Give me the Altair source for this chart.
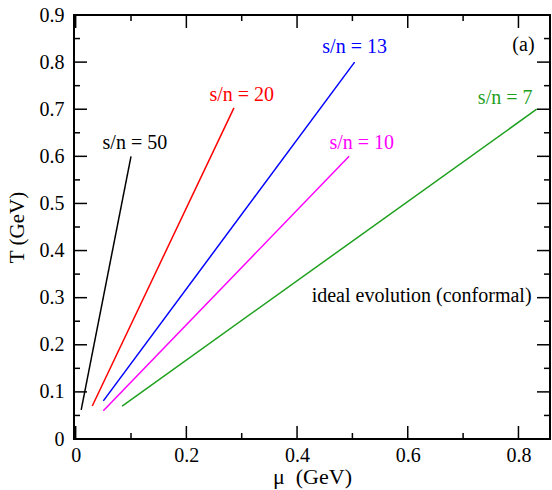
import altair as alt
import pandas as pd

# ---- data ----
series_names = ["s/n = 50", "s/n = 20", "s/n = 13", "s/n = 10", "s/n = 7"]
series_colors = ["#000000", "#ff0000", "#0000ff", "#ff00ff", "#1ea01e"]
mu_50 = [0.010, 0.100]
T_50 = [0.062, 0.600]
mu_20 = [0.030, 0.286]
T_20 = [0.070, 0.703]
mu_13 = [0.050, 0.504]
T_13 = [0.081, 0.800]
mu_10 = [0.050, 0.494]
T_10 = [0.060, 0.600]
mu_7 = [0.084, 0.833]
T_7 = [0.070, 0.700]

label_x = [0.107, 0.300, 0.504, 0.517, 0.776]
label_y = [0.628, 0.730, 0.832, 0.628, 0.724]

x_major = [0.0, 0.2, 0.4, 0.6, 0.8]
x_minor = [0.1, 0.3, 0.5, 0.7]
y_major = [0.0, 0.1, 0.2, 0.3, 0.4, 0.5, 0.6, 0.7, 0.8, 0.9]
y_minor = [0.05, 0.15, 0.25, 0.35, 0.45, 0.55, 0.65, 0.75, 0.85]

rows = []
for name, mus, Ts in zip(series_names, [mu_50, mu_20, mu_13, mu_10, mu_7],
                         [T_50, T_20, T_13, T_10, T_7]):
    for i, (m, t) in enumerate(zip(mus, Ts)):
        rows.append({"series": name, "mu": m, "T": t, "order": i})
lines_df = pd.DataFrame(rows)

labels_df = pd.DataFrame({"series": series_names, "mu": label_x, "T": label_y})
misc_df = pd.DataFrame({"text": ["(a)", "ideal evolution (conformal)"],
                        "mu": [0.809, 0.625], "T": [0.837, 0.304]})

W, H = 476, 424
FONT = "Liberation Serif"
MAJ, MIN = 13, 6

xscale = alt.Scale(domain=[-0.003, 0.857], nice=False, zero=False)
yscale = alt.Scale(domain=[0, 0.9], nice=False, zero=False)
color_scale = alt.Scale(domain=series_names, range=series_colors)

xaxis = alt.Axis(values=x_major, title="μ\u2002(GeV)", grid=False, ticks=False, domain=False,
                 labelFont=FONT, labelFontSize=20, labelColor="black", labelPadding=6,
                 labelExpr="datum.value == 0 ? '0' : format(datum.value, '.1f')",
                 titleFont=FONT, titleFontSize=22, titleFontWeight="normal",
                 titleColor="black", titlePadding=1)
yaxis = alt.Axis(values=y_major, title="T (GeV)", grid=False, ticks=False, domain=False,
                 labelFont=FONT, labelFontSize=20, labelColor="black", labelPadding=10,
                 labelExpr="datum.value == 0 ? '0' : format(datum.value, '.1f')",
                 titleFont=FONT, titleFontSize=21, titleFontWeight="normal",
                 titleColor="black", titlePadding=12)

lines = alt.Chart(lines_df).mark_line(strokeWidth=1.5).encode(
    x=alt.X("mu:Q", scale=xscale, axis=xaxis),
    y=alt.Y("T:Q", scale=yscale, axis=yaxis),
    color=alt.Color("series:N", scale=color_scale, legend=None),
    order="order:O",
)

labels = alt.Chart(labels_df).mark_text(font=FONT, fontSize=20).encode(
    x=alt.X("mu:Q", scale=xscale),
    y=alt.Y("T:Q", scale=yscale),
    text="series:N",
    color=alt.Color("series:N", scale=color_scale, legend=None),
)

misc = alt.Chart(misc_df).mark_text(font=FONT, fontSize=20, color="black").encode(
    x=alt.X("mu:Q", scale=xscale),
    y=alt.Y("T:Q", scale=yscale),
    text="text:N",
)


def xticks(vals, length):
    df = pd.DataFrame({"v": vals})
    bottom = alt.Chart(df).mark_rule(color="black", strokeWidth=1.5).encode(
        x=alt.X("v:Q", scale=xscale), y=alt.value(H), y2=alt.value(H - length))
    top = alt.Chart(df).mark_rule(color="black", strokeWidth=1.5).encode(
        x=alt.X("v:Q", scale=xscale), y=alt.value(0), y2=alt.value(length))
    return [bottom, top]


def yticks(vals, length):
    df = pd.DataFrame({"v": vals})
    left = alt.Chart(df).mark_rule(color="black", strokeWidth=1.5).encode(
        y=alt.Y("v:Q", scale=yscale), x=alt.value(0), x2=alt.value(length))
    right = alt.Chart(df).mark_rule(color="black", strokeWidth=1.5).encode(
        y=alt.Y("v:Q", scale=yscale), x=alt.value(W), x2=alt.value(W - length))
    return [left, right]


layers = [lines, labels, misc]
layers += xticks(x_major, MAJ) + xticks(x_minor, MIN)
layers += yticks(y_major, MAJ) + yticks(y_minor, MIN)

chart = alt.layer(*layers).properties(
    width=W, height=H,
    padding={"left": 74, "top": 15, "right": 2, "bottom": 51},
    autosize=alt.AutoSizeParams(type="none"),
    background="white",
).configure_view(stroke="black", strokeWidth=2)

chart.save("out.html", embed_options={"renderer": "svg", "actions": False})
